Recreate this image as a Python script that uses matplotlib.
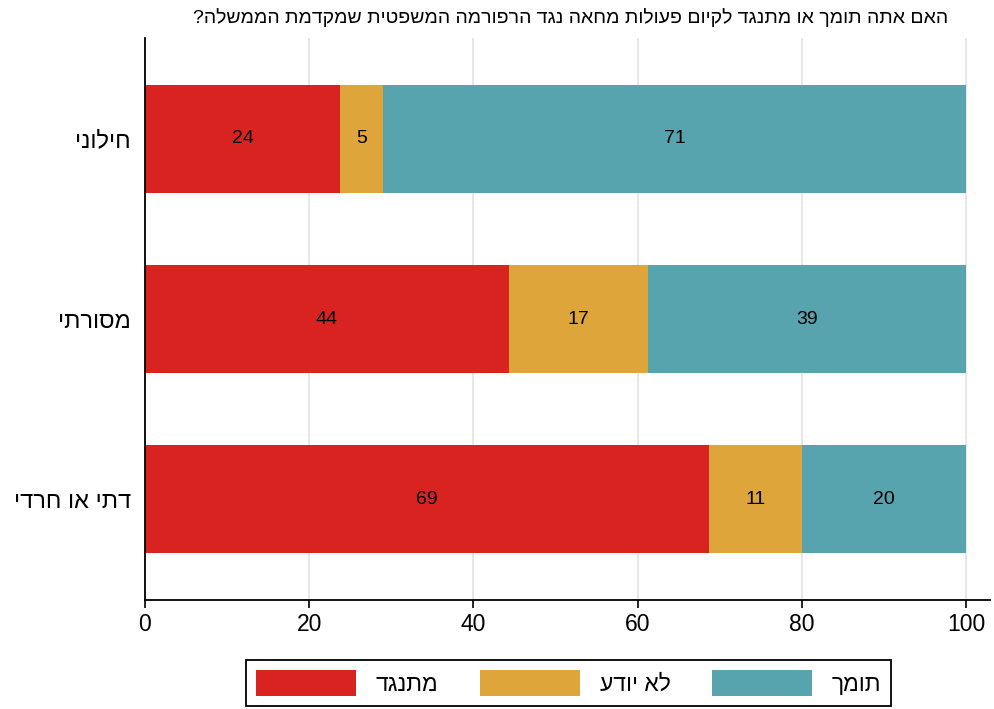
import matplotlib.pyplot as plt
import numpy as np

plt.rcParams['font.family'] = ['Liberation Sans', 'DejaVu Sans']


def heb(s):
    # matplotlib has no bidi support, so flip the string to visual order
    return s[::-1]


title = "האם אתה תומך או מתנגד לקיום פעולות מחאה נגד הרפורמה המשפטית שמקדמת הממשלה?"
groups = ["דתי או חרדי", "מסורתי", "חילוני"]
series = ["מתנגד", "לא יודע", "תומך"]
colors = ["#d92321", "#dea53a", "#58a4ae"]

oppose = [68.7, 44.3, 23.8]
dont_know = [11.3, 17.0, 5.2]
support = [20.0, 38.7, 71.0]
values = [oppose, dont_know, support]

fig = plt.figure(figsize=(9.95, 7.09), dpi=100)
ax = fig.add_axes([145 / 995, 1 - 600 / 709, 845 / 995, 562 / 709])

y = np.arange(len(groups))
left = np.zeros(len(groups))
for name, vals, c in zip(series, values, colors):
    vals = np.array(vals)
    bars = ax.barh(y, vals, left=left, height=0.6, color=c, label=heb(name), zorder=2)
    ax.bar_label(bars, labels=["%d" % round(v) for v in vals], label_type='center', fontsize=14)
    left += vals

ax.set_xlim(0, 102.9)
ax.set_ylim(-0.56, 2.56)
ax.set_xticks([0, 20, 40, 60, 80, 100])
ax.set_yticks(y)
ax.set_yticklabels([heb(g) for g in groups], fontsize=17)
ax.tick_params(axis='x', labelsize=16.5, length=6, width=1.2)
ax.tick_params(axis='y', length=0, pad=10)
ax.grid(axis='x', color='#e3e3e3', linewidth=1.2, zorder=0)
for s in ['top', 'right']:
    ax.spines[s].set_visible(False)
for s in ['left', 'bottom']:
    ax.spines[s].set_linewidth(1.3)

fig.text(948 / 995, 1 - 18 / 709, heb(title), ha='right', va='center', fontsize=14)

leg = fig.legend(loc='center', bbox_to_anchor=(568.5 / 995, 1 - 683 / 709), ncol=3,
                 fontsize=16.5, handlelength=4.37, handleheight=1.4, columnspacing=1.8,
                 handletextpad=0.87, fancybox=False, edgecolor='black', framealpha=1,
                 borderpad=0.42)
leg.get_frame().set_linewidth(1.3)

fig.savefig("out.png", dpi=100)
